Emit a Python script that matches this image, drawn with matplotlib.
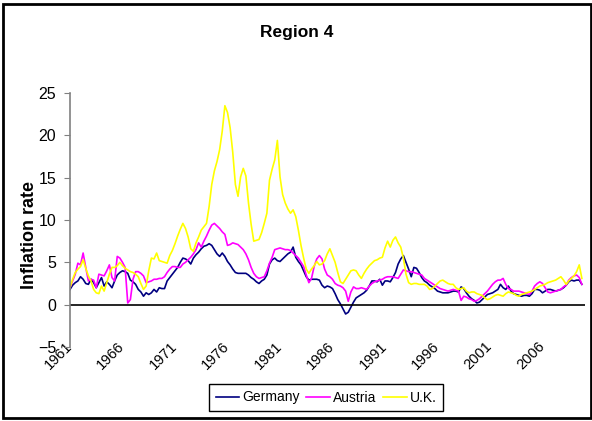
import numpy as np
import matplotlib.pyplot as plt
from matplotlib.patches import Rectangle

plt.rcParams['font.family'] = ['Liberation Sans', 'DejaVu Sans']

# quarterly inflation rates, 1961Q1 .. 2009Q4
start_year = 1961
germany = [
    1.8, 2.3, 2.6, 2.8,  3.3, 3.0, 2.5, 2.4,  3.0, 2.6, 2.0, 2.6,  3.2, 2.2, 2.7, 2.4,  2.0, 2.8, 3.5, 3.8,
    4.0, 3.9, 3.7, 2.9,  2.7, 2.4, 1.8, 1.5,  1.0, 1.4, 1.2, 1.4,  1.8, 1.5, 2.0, 1.9,  1.9, 2.8, 3.2, 3.6,
    4.0, 4.4, 5.0, 5.5,  5.4, 5.2, 4.8, 5.5,  5.9, 6.2, 6.6, 6.9,  7.0, 7.2, 7.0, 6.5,  6.0, 5.7, 6.1, 5.7,
    5.1, 4.7, 4.2, 3.8,  3.7, 3.7, 3.7, 3.7,  3.5, 3.2, 3.0, 2.7,  2.5, 2.8, 3.0, 3.5,  4.8, 5.3, 5.5, 5.2,
    5.1, 5.4, 5.7, 6.0,  6.2, 6.8, 5.6, 5.1,  4.7, 4.0, 3.3, 2.9,  3.0, 3.0, 3.0, 2.9,  2.3, 2.0, 2.2, 2.1,
    1.9, 1.3, 0.6, 0.1,  -0.5, -1.1, -0.9, -0.3,  0.3, 0.8, 1.0, 1.2,  1.4, 1.7, 2.2, 2.8,  2.8, 2.7, 3.0, 2.3,
    2.8, 2.8, 2.7, 3.2,  3.8, 4.8, 5.4, 5.8,  5.0, 4.2, 3.3, 4.4,  4.3, 3.8, 3.2, 2.8,  2.6, 2.3, 2.1, 1.9,
    1.6, 1.5, 1.4, 1.4,  1.4, 1.5, 1.6, 1.6,  1.5, 2.1, 1.9, 1.4,  1.0, 0.7, 0.5, 0.2,  0.3, 0.6, 0.9, 1.2,
    1.3, 1.4, 1.6, 1.8,  2.4, 2.0, 1.8, 2.2,  1.6, 1.3, 1.2, 1.1,  1.0, 1.1, 1.1, 1.0,  1.3, 1.8, 1.8, 1.7,
    1.4, 1.6, 1.8, 1.8,  1.7, 1.6, 1.7, 1.8,  2.0, 2.3, 2.7, 2.9,  2.8, 2.9, 2.9, 2.4,
]
austria = [
    2.0, 2.8, 3.6, 4.9,  4.7, 6.1, 4.4, 2.8,  3.0, 2.9, 2.0, 3.6,  3.5, 3.4, 4.0, 4.7,  3.2, 2.8, 5.7, 5.5,
    5.0, 4.4, 0.2, 0.6,  3.0, 3.9, 3.9, 3.7,  3.4, 2.6, 2.7, 2.8,  3.0, 3.0, 3.1, 3.1,  3.3, 3.8, 4.2, 4.5,
    4.5, 4.4, 4.4, 4.8,  5.0, 5.3, 5.6, 6.0,  6.5, 7.3, 6.8, 7.5,  8.1, 8.8, 9.4, 9.6,  9.3, 9.0, 8.6, 8.3,
    7.0, 7.1, 7.3, 7.2,  7.1, 6.8, 6.5, 6.0,  5.3, 4.4, 3.7, 3.3,  3.1, 3.2, 3.3, 4.0,  4.9, 5.6, 6.5, 6.6,
    6.7, 6.6, 6.5, 6.5,  6.4, 6.1, 5.8, 5.5,  5.0, 4.5, 3.5, 2.6,  3.1, 4.5, 5.4, 5.8,  5.4, 4.2, 3.5, 3.3,
    3.0, 2.5, 2.3, 2.2,  2.0, 1.6, 0.4, 1.5,  2.1, 1.9, 1.9, 2.0,  1.9, 1.8, 2.2, 2.5,  2.7, 2.8, 2.9, 3.0,
    3.2, 3.3, 3.3, 3.3,  3.2, 3.1, 3.6, 4.1,  4.0, 3.9, 3.9, 3.8,  3.7, 3.6, 3.5, 3.1,  2.9, 2.7, 2.5, 2.3,
    2.1, 1.9, 1.8, 1.7,  1.6, 1.7, 1.8, 1.7,  1.6, 0.5, 1.0, 0.9,  0.7, 0.6, 0.4, 0.5,  0.7, 1.0, 1.3, 1.6,
    2.0, 2.4, 2.7, 2.9,  2.9, 3.1, 2.4, 1.9,  1.8, 1.6, 1.6, 1.6,  1.5, 1.4, 1.3, 1.2,  1.6, 2.2, 2.5, 2.7,
    2.5, 2.0, 1.5, 1.4,  1.5, 1.6, 1.7, 1.8,  2.1, 2.3, 2.9, 3.2,  3.4, 3.5, 3.2, 2.4,
]
uk = [
    2.0, 3.0, 3.8, 4.2,  4.5, 5.3, 4.3, 3.4,  2.8, 1.8, 1.4, 1.3,  2.2, 1.6, 2.6, 3.6,  4.4, 4.4, 4.6, 5.0,
    4.6, 4.3, 4.1, 3.9,  3.8, 3.6, 3.3, 2.5,  1.8, 2.2, 4.0, 5.5,  5.4, 6.1, 5.2, 5.1,  5.0, 4.9, 5.8, 6.4,
    7.2, 8.1, 8.9, 9.6,  9.0, 8.0, 6.6, 6.3,  7.3, 8.0, 8.8, 9.2,  9.6, 11.6, 14.2, 15.8,  16.9, 18.3, 20.5, 23.5,
    22.7, 20.9, 18.0, 14.2,  12.8, 15.1, 16.1, 15.2,  12.0, 9.5, 7.5, 7.6,  7.7, 8.5, 9.6, 10.8,  14.7, 16.0, 17.1, 19.4,
    15.1, 13.0, 12.0, 11.3,  10.8, 11.2, 10.4, 8.8,  7.0, 5.5, 4.2, 3.7,  4.2, 4.6, 5.1, 4.7,  4.8, 5.2, 6.0, 6.6,
    5.8, 5.0, 3.8, 2.7,  2.5, 3.0, 3.5, 4.0,  4.1, 4.0, 3.5, 3.1,  3.7, 4.2, 4.6, 4.9,  5.2, 5.3, 5.5, 5.6,
    6.7, 7.5, 6.8, 7.6,  8.0, 7.3, 6.8, 5.5,  3.6, 2.6, 2.4, 2.5,  2.5, 2.4, 2.4, 2.4,  2.2, 1.8, 1.9, 2.2,
    2.5, 2.8, 2.9, 2.7,  2.5, 2.4, 2.4, 2.0,  1.8, 1.9, 2.0, 1.6,  1.4, 1.5, 1.5, 1.3,  1.2, 1.1, 0.8, 0.6,
    0.7, 0.9, 1.1, 1.2,  1.1, 1.0, 1.3, 1.5,  1.4, 1.3, 1.1, 1.0,  1.2, 1.3, 1.4, 1.5,  1.6, 1.8, 2.0, 2.2,
    2.3, 2.4, 2.6, 2.7,  2.8, 2.9, 3.1, 3.3,  2.9, 2.4, 2.8, 3.1,  3.4, 3.9, 4.7, 3.1,
]
names = ['Germany', 'Austria', 'U.K.']
colors = ['#000080', '#FF00FF', '#FFFF00']
tick_years = list(range(1961, 2007, 5))
y_ticks = [-5, 0, 5, 10, 15, 20, 25]

fig = plt.figure(figsize=(5.92, 4.21), dpi=100)
W, H = 592, 421
ax = fig.add_axes([70 / W, 1 - 347 / H, 514.5 / W, 254 / H])

for vals, name, c in zip([germany, austria, uk], names, colors):
    x = start_year + np.arange(len(vals)) / 4
    ax.plot(x, vals, color=c, lw=1.2, label=name)

ax.axhline(0, color='black', lw=1.2)
ax.set_xlim(1961, 2010)
ax.set_ylim(-5, 25)
for s in ['top', 'right', 'bottom']:
    ax.spines[s].set_visible(False)
ax.spines['left'].set_color('#808080')
ax.spines['left'].set_linewidth(1.2)

ax.set_yticks(y_ticks)
ax.tick_params(axis='y', direction='out', length=4, color='#808080', labelsize=11.5, pad=6)
ax.set_xticks(tick_years)
ax.set_xticklabels([str(y) for y in tick_years], rotation=45, ha='right', va='center',
                   rotation_mode='anchor', fontsize=10.5)
ax.tick_params(axis='x', length=0, pad=-2)

fig.text(297 / W, 1 - 33 / H, 'Region 4', ha='center', va='center', fontsize=12.5, weight='bold')
fig.text(30 / W, 1 - 235 / H, 'Inflation rate', rotation=90, ha='center', va='center',
         fontsize=13, weight='bold')

fig.legend(loc='center', bbox_to_anchor=(326 / W, 1 - 397.5 / H), ncol=3, fontsize=10,
           frameon=True, fancybox=False, edgecolor='black', framealpha=1,
           handlelength=1.7, handletextpad=0.2, columnspacing=0.5, borderpad=0.5)

fig.patches.append(Rectangle((3 / W, 1 - 418 / H), 588 / W, 414 / H, transform=fig.transFigure,
                             fill=False, ec='black', lw=2))

fig.savefig('out.png', dpi=100)
